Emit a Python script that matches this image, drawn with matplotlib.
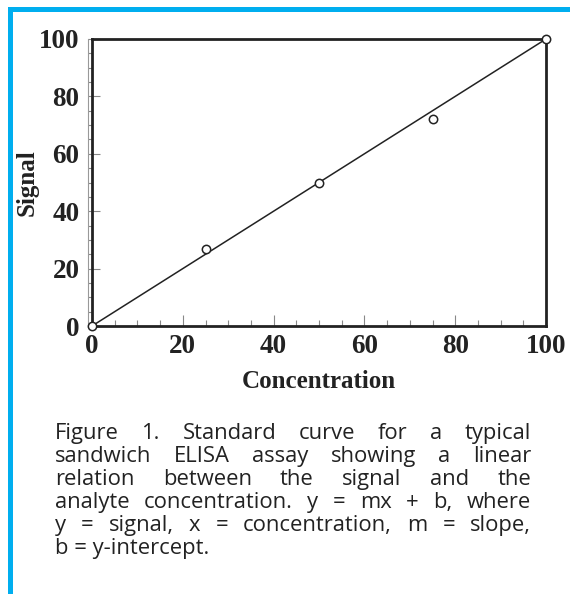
import numpy as np
import matplotlib.pyplot as plt
import matplotlib.transforms as mtransforms
from matplotlib.ticker import MultipleLocator

# data
conc = [0, 25, 50, 75, 100]
signal = [0, 27, 50, 72, 100]
fit_x = [0, 100]
fit_y = [0, 100]

caption_lines = [
    "Figure 1. Standard curve for a typical",
    "sandwich ELISA assay showing a linear",
    "relation between the signal and the",
    "analyte concentration. y = mx + b, where",
    "y = signal, x = concentration, m = slope,",
    "b = y-intercept.",
]

blue = '#00AEEF'
serif = 'Liberation Serif'

fig = plt.figure(figsize=(5.7, 5.94), dpi=100)

# blue frame lines (top and left)
fig.add_artist(plt.Rectangle((8 / 570, 0), 5 / 570, 1 - 7 / 594, transform=fig.transFigure,
                             color=blue, lw=0))
fig.add_artist(plt.Rectangle((8 / 570, 1 - 12 / 594), 1, 5 / 594, transform=fig.transFigure,
                             color=blue, lw=0))

ax = fig.add_axes([92 / 570, 1 - 326 / 594, (546 - 92) / 570, (326 - 39) / 594])
ax.plot(fit_x, fit_y, color='#222222', lw=1.1, zorder=3)
ax.plot(conc, signal, 'o', mfc='white', mec='#222222', ms=6, mew=1.1, clip_on=False, zorder=4)

ax.set_xlim(0, 100)
ax.set_ylim(0, 100)
for s in ax.spines.values():
    s.set_linewidth(2.0)
    s.set_color('#222222')

# thin gray rule just left of the y spine, where the outer minor ticks end
offset = mtransforms.ScaledTranslation(-4 / 100, 0, fig.dpi_scale_trans)
ax.plot([0, 0], [0, 1], color='#999999', lw=0.8, clip_on=False,
        transform=ax.transAxes + offset)

ax.xaxis.set_major_locator(MultipleLocator(20))
ax.xaxis.set_minor_locator(MultipleLocator(5))
ax.yaxis.set_major_locator(MultipleLocator(20))
ax.yaxis.set_minor_locator(MultipleLocator(5))
ax.yaxis.remove_overlapping_locs = False
ax.tick_params(axis='x', which='major', direction='in', length=8, width=0.8, color='#888888', pad=6)
ax.tick_params(axis='x', which='minor', direction='in', length=4, width=0.8, color='#888888')
ax.tick_params(axis='y', which='major', direction='in', length=6, width=0.8, color='#888888', pad=9)
ax.tick_params(axis='y', which='minor', direction='out', length=3, width=0.8, color='#888888')
for lab in ax.get_xticklabels() + ax.get_yticklabels():
    lab.set_fontfamily(serif)
    lab.set_fontweight('bold')
    lab.set_fontsize(19.5)
    lab.set_color('#222222')

ax.set_xlabel('Concentration', fontfamily=serif, fontweight='bold', fontsize=18,
              color='#222222')
ax.xaxis.set_label_coords(0.5, -0.152)
ax.set_ylabel('Signal', fontfamily=serif, fontweight='bold', fontsize=18,
              color='#222222')
ax.yaxis.set_label_coords(-0.143, 0.5)
ax.yaxis.label.set_va('center')

# justified caption
cap_font = dict(family='Open Sans', size=15.8, color='#222222')
left, right = 55, 531
top = 423
line_h = 23
fig.canvas.draw()
renderer = fig.canvas.get_renderer()
for i, line in enumerate(caption_lines):
    y = 1 - (top + i * line_h) / 594
    words = line.split(' ')
    if i == len(caption_lines) - 1:
        fig.text(left / 570, y, line, va='top', ha='left', **cap_font)
        continue
    widths = []
    for w in words:
        t = fig.text(0, 0, w, **cap_font)
        widths.append(t.get_window_extent(renderer).width)
        t.remove()
    gap = (right - left - sum(widths)) / (len(words) - 1)
    x = left
    for w, wd in zip(words, widths):
        fig.text(x / 570, y, w, va='top', ha='left', **cap_font)
        x += wd + gap

fig.savefig('out.png', dpi=100)
